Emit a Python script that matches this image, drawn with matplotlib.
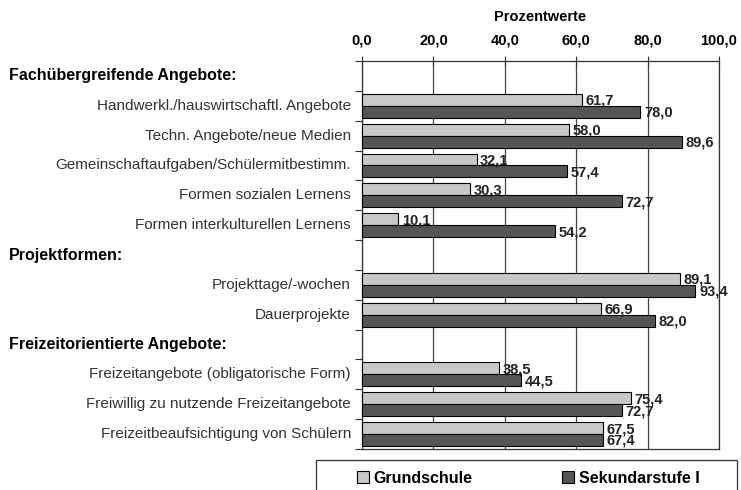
import matplotlib.pyplot as plt
import matplotlib.transforms as mtransforms
from matplotlib.patches import Rectangle
import numpy as np

plt.rcParams['font.family'] = ['Liberation Sans', 'DejaVu Sans']

# rows from top to bottom; headers have no bars
rows = ["Fachübergreifende Angebote:",
        "Handwerkl./hauswirtschaftl. Angebote",
        "Techn. Angebote/neue Medien",
        "Gemeinschaftaufgaben/Schülermitbestimm.",
        "Formen sozialen Lernens",
        "Formen interkulturellen Lernens",
        "Projektformen:",
        "Projekttage/-wochen",
        "Dauerprojekte",
        "Freizeitorientierte Angebote:",
        "Freizeitangebote (obligatorische Form)",
        "Freiwillig zu nutzende Freizeitangebote",
        "Freizeitbeaufsichtigung von Schülern"]
is_header = [True, False, False, False, False, False, True, False, False,
             True, False, False, False]
grundschule = [np.nan, 61.7, 58.0, 32.1, 30.3, 10.1, np.nan, 89.1, 66.9,
               np.nan, 38.5, 75.4, 67.5]
sekundar = [np.nan, 78.0, 89.6, 57.4, 72.7, 54.2, np.nan, 93.4, 82.0,
            np.nan, 44.5, 72.7, 67.4]
ticks = [0, 20, 40, 60, 80, 100]

fig = plt.figure(figsize=(7.41, 4.90), dpi=100)
ax = fig.add_axes([362/741, 1-449/490, (719-362)/741, (449-61)/490])

y = np.arange(len(rows))
light = "#c8c8c8"
dark = "#555555"
ax.barh(y - 0.2, grundschule, height=0.4, color=light, edgecolor="black",
        linewidth=0.8, label="Grundschule", zorder=3)
ax.barh(y + 0.2, sekundar, height=0.4, color=dark, edgecolor="black",
        linewidth=0.8, label="Sekundarstufe I", zorder=3)

def fmt(v):
    return ("%.1f" % v).replace(".", ",")

for i in range(len(rows)):
    if is_header[i]:
        continue
    ax.text(grundschule[i] + 1.0, i - 0.17, fmt(grundschule[i]), va="center",
            ha="left", fontsize=10.5, fontweight="bold", color="#222222", zorder=4)
    ax.text(sekundar[i] + 1.0, i + 0.23, fmt(sekundar[i]), va="center",
            ha="left", fontsize=10.5, fontweight="bold", color="#222222", zorder=4)

ax.set_xlim(0, 100)
ax.set_ylim(len(rows) - 0.5, -0.5)
ax.xaxis.tick_top()
ax.xaxis.set_label_position("top")
ax.set_xticks(ticks)
ax.set_xticklabels([fmt(t) for t in ticks], fontsize=10.5, fontweight="bold")
ax.tick_params(axis="x", direction="inout", length=7, pad=6, color="#333333")
ax.set_xlabel("Prozentwerte", fontsize=10.5, fontweight="bold", labelpad=9)
ax.grid(axis="x", color="#444444", linewidth=0.9, zorder=0)

# category separators as ticks on the left spine
ax.set_yticks(np.arange(len(rows) + 1) - 0.5)
ax.set_yticklabels([])
ax.tick_params(axis="y", direction="out", length=5, color="#333333")
for s in ax.spines.values():
    s.set_color("#333333")
    s.set_linewidth(0.9)

head_tr = mtransforms.blended_transform_factory(fig.transFigure, ax.transData)
for i, r in enumerate(rows):
    if is_header[i]:
        fig.text(9/741, i, r, transform=head_tr, va="center", ha="left",
                 fontsize=11.5, fontweight="bold", color="black")
    else:
        ax.annotate(r, xy=(0, i), xycoords=("axes fraction", "data"),
                    xytext=(-8, 0), textcoords="offset points", va="center",
                    ha="right", fontsize=11, color="#333333")

# legend box, cut by the lower edge like in the original
fig.patches.append(Rectangle((316/741, -0.05), (737-316)/741, 0.05 + 30/490,
                             transform=fig.transFigure, fill=False,
                             edgecolor="#333333", linewidth=0.9))
leg = fig.legend(loc="center left", bbox_to_anchor=(357/741, 1-478/490),
                 ncol=2, frameon=False, borderaxespad=0, borderpad=0,
                 handlelength=0.75, handleheight=0.75, handletextpad=0.3,
                 columnspacing=5.6, prop={"size": 11.5, "weight": "bold"})

fig.savefig("out.png", dpi=100)
